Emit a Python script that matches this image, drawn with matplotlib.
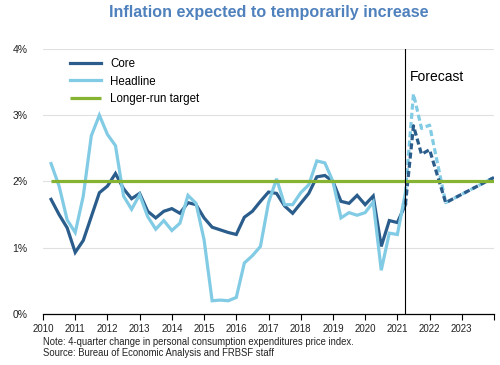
import matplotlib
matplotlib.use("Agg")
import matplotlib.pyplot as plt
import pandas as pd

plt.rcParams['font.family'] = ['Liberation Sans', 'DejaVu Sans']

# ---- data (4-quarter % change, quarterly, 2010Q1 .. 2021Q1) ----
start_quarter = '2010Q1'
end_quarter = '2021Q1'
core = [1.73, 1.50, 1.30, 0.93, 1.11, 1.47, 1.83, 1.93,
        2.12, 1.89, 1.74, 1.82, 1.55, 1.45, 1.55, 1.59,
        1.52, 1.68, 1.65, 1.45, 1.31, 1.27, 1.23, 1.20,
        1.46, 1.55, 1.70, 1.84, 1.82, 1.63, 1.52, 1.67,
        1.82, 2.07, 2.09, 2.00, 1.70, 1.67, 1.79, 1.65,
        1.78, 1.02, 1.41, 1.38, 1.65]
headline = [2.27, 1.93, 1.42, 1.23, 1.78, 2.69, 3.00, 2.71,
            2.54, 1.78, 1.58, 1.80, 1.47, 1.28, 1.41, 1.26,
            1.37, 1.79, 1.67, 1.12, 0.20, 0.21, 0.20, 0.25,
            0.77, 0.88, 1.02, 1.68, 2.04, 1.65, 1.65, 1.83,
            1.95, 2.31, 2.28, 2.00, 1.45, 1.53, 1.49, 1.53,
            1.69, 0.66, 1.22, 1.20, 1.83]

forecast_quarters = ['2021Q1', '2021Q2', '2021Q3', '2021Q4', '2022Q2', '2023Q4']
core_forecast = [1.65, 2.84, 2.41, 2.48, 1.68, 2.06]
headline_forecast = [1.83, 3.32, 2.80, 2.85, 1.68, 2.06]

target = 2.0
forecast_start = '2021Q1'

year_ticks = list(range(2010, 2025))
year_labels = [str(y) for y in range(2010, 2024)] + ['']
y_ticks = [0, 1, 2, 3, 4]
y_labels = ['0%', '1%', '2%', '3%', '4%']

title = 'Inflation expected to temporarily increase'
note = 'Note: 4-quarter change in personal consumption expenditures price index.'
source = 'Source: Bureau of Economic Analysis and FRBSF staff'


def q_to_x(p):
    # position each quarter at its end (decimal year)
    return p.year + p.quarter / 4.0


quarters = pd.period_range(start_quarter, end_quarter, freq='Q')
x_hist = [q_to_x(p) for p in quarters]
x_fc = [q_to_x(pd.Period(q, freq='Q')) for q in forecast_quarters]
x_fc_start = q_to_x(pd.Period(forecast_start, freq='Q'))

# ---- colors ----
c_core = '#2B5D8C'
c_head = '#82CBE5'
c_target = '#86B332'
c_title = '#4F81BD'

fig = plt.figure(figsize=(5.0, 3.65), dpi=100)
ax = fig.add_axes([0.086, 0.1397, 0.902, 0.7263])

ax.set_xlim(2010, 2024)
ax.set_ylim(0, 4)

for yv in y_ticks[1:]:
    ax.axhline(yv, color='#E0E0E0', lw=0.8, zorder=0)

lw = 2.3
ax.plot(x_hist, core, color=c_core, lw=lw, zorder=3, label='Core',
        solid_joinstyle='miter')
ax.plot(x_hist, headline, color=c_head, lw=lw, zorder=4, label='Headline',
        solid_joinstyle='miter')
ax.plot(x_fc, headline_forecast, color=c_head, lw=lw, zorder=4,
        linestyle=(0, (1.9, 1.0)))
ax.plot(x_fc, core_forecast, color=c_core, lw=lw, zorder=4.5,
        linestyle=(0, (1.9, 1.0)))
ax.hlines(target, x_hist[0], x_fc[-1], color=c_target, lw=lw, zorder=5,
          label='Longer-run target')

ax.axvline(x_fc_start, color='black', lw=0.8, zorder=6)
ax.text(x_fc_start + 0.14, 3.57, 'Forecast', fontsize=10, color='black',
        ha='left', va='center')

for s in ['left', 'right', 'top']:
    ax.spines[s].set_visible(False)
ax.spines['bottom'].set_color('black')
ax.spines['bottom'].set_linewidth(0.9)

ax.set_xticks(year_ticks)
ax.set_xticklabels(year_labels)
ax.set_yticks(y_ticks)
ax.set_yticklabels(y_labels)
ax.tick_params(axis='x', direction='out', length=4, width=0.8, color='black',
               labelsize=7, pad=3, labelcolor='#222222')
ax.tick_params(axis='y', length=0, labelsize=7.5, pad=11, labelcolor='#222222')

leg = ax.legend(loc='upper left', bbox_to_anchor=(0.05, 0.984), frameon=False,
                fontsize=8.3, handlelength=2.7, handletextpad=0.75,
                labelspacing=0.5, borderaxespad=0.0)

fig.text(0.538, 0.966, title, ha='center', va='center', fontsize=11.6,
         fontweight='bold', color=c_title)
fig.text(0.086, 0.062, note, ha='left', va='center', fontsize=6.85,
         color='#222222')
fig.text(0.086, 0.034, source, ha='left', va='center', fontsize=6.85,
         color='#222222')

fig.savefig('out.png', dpi=100)
